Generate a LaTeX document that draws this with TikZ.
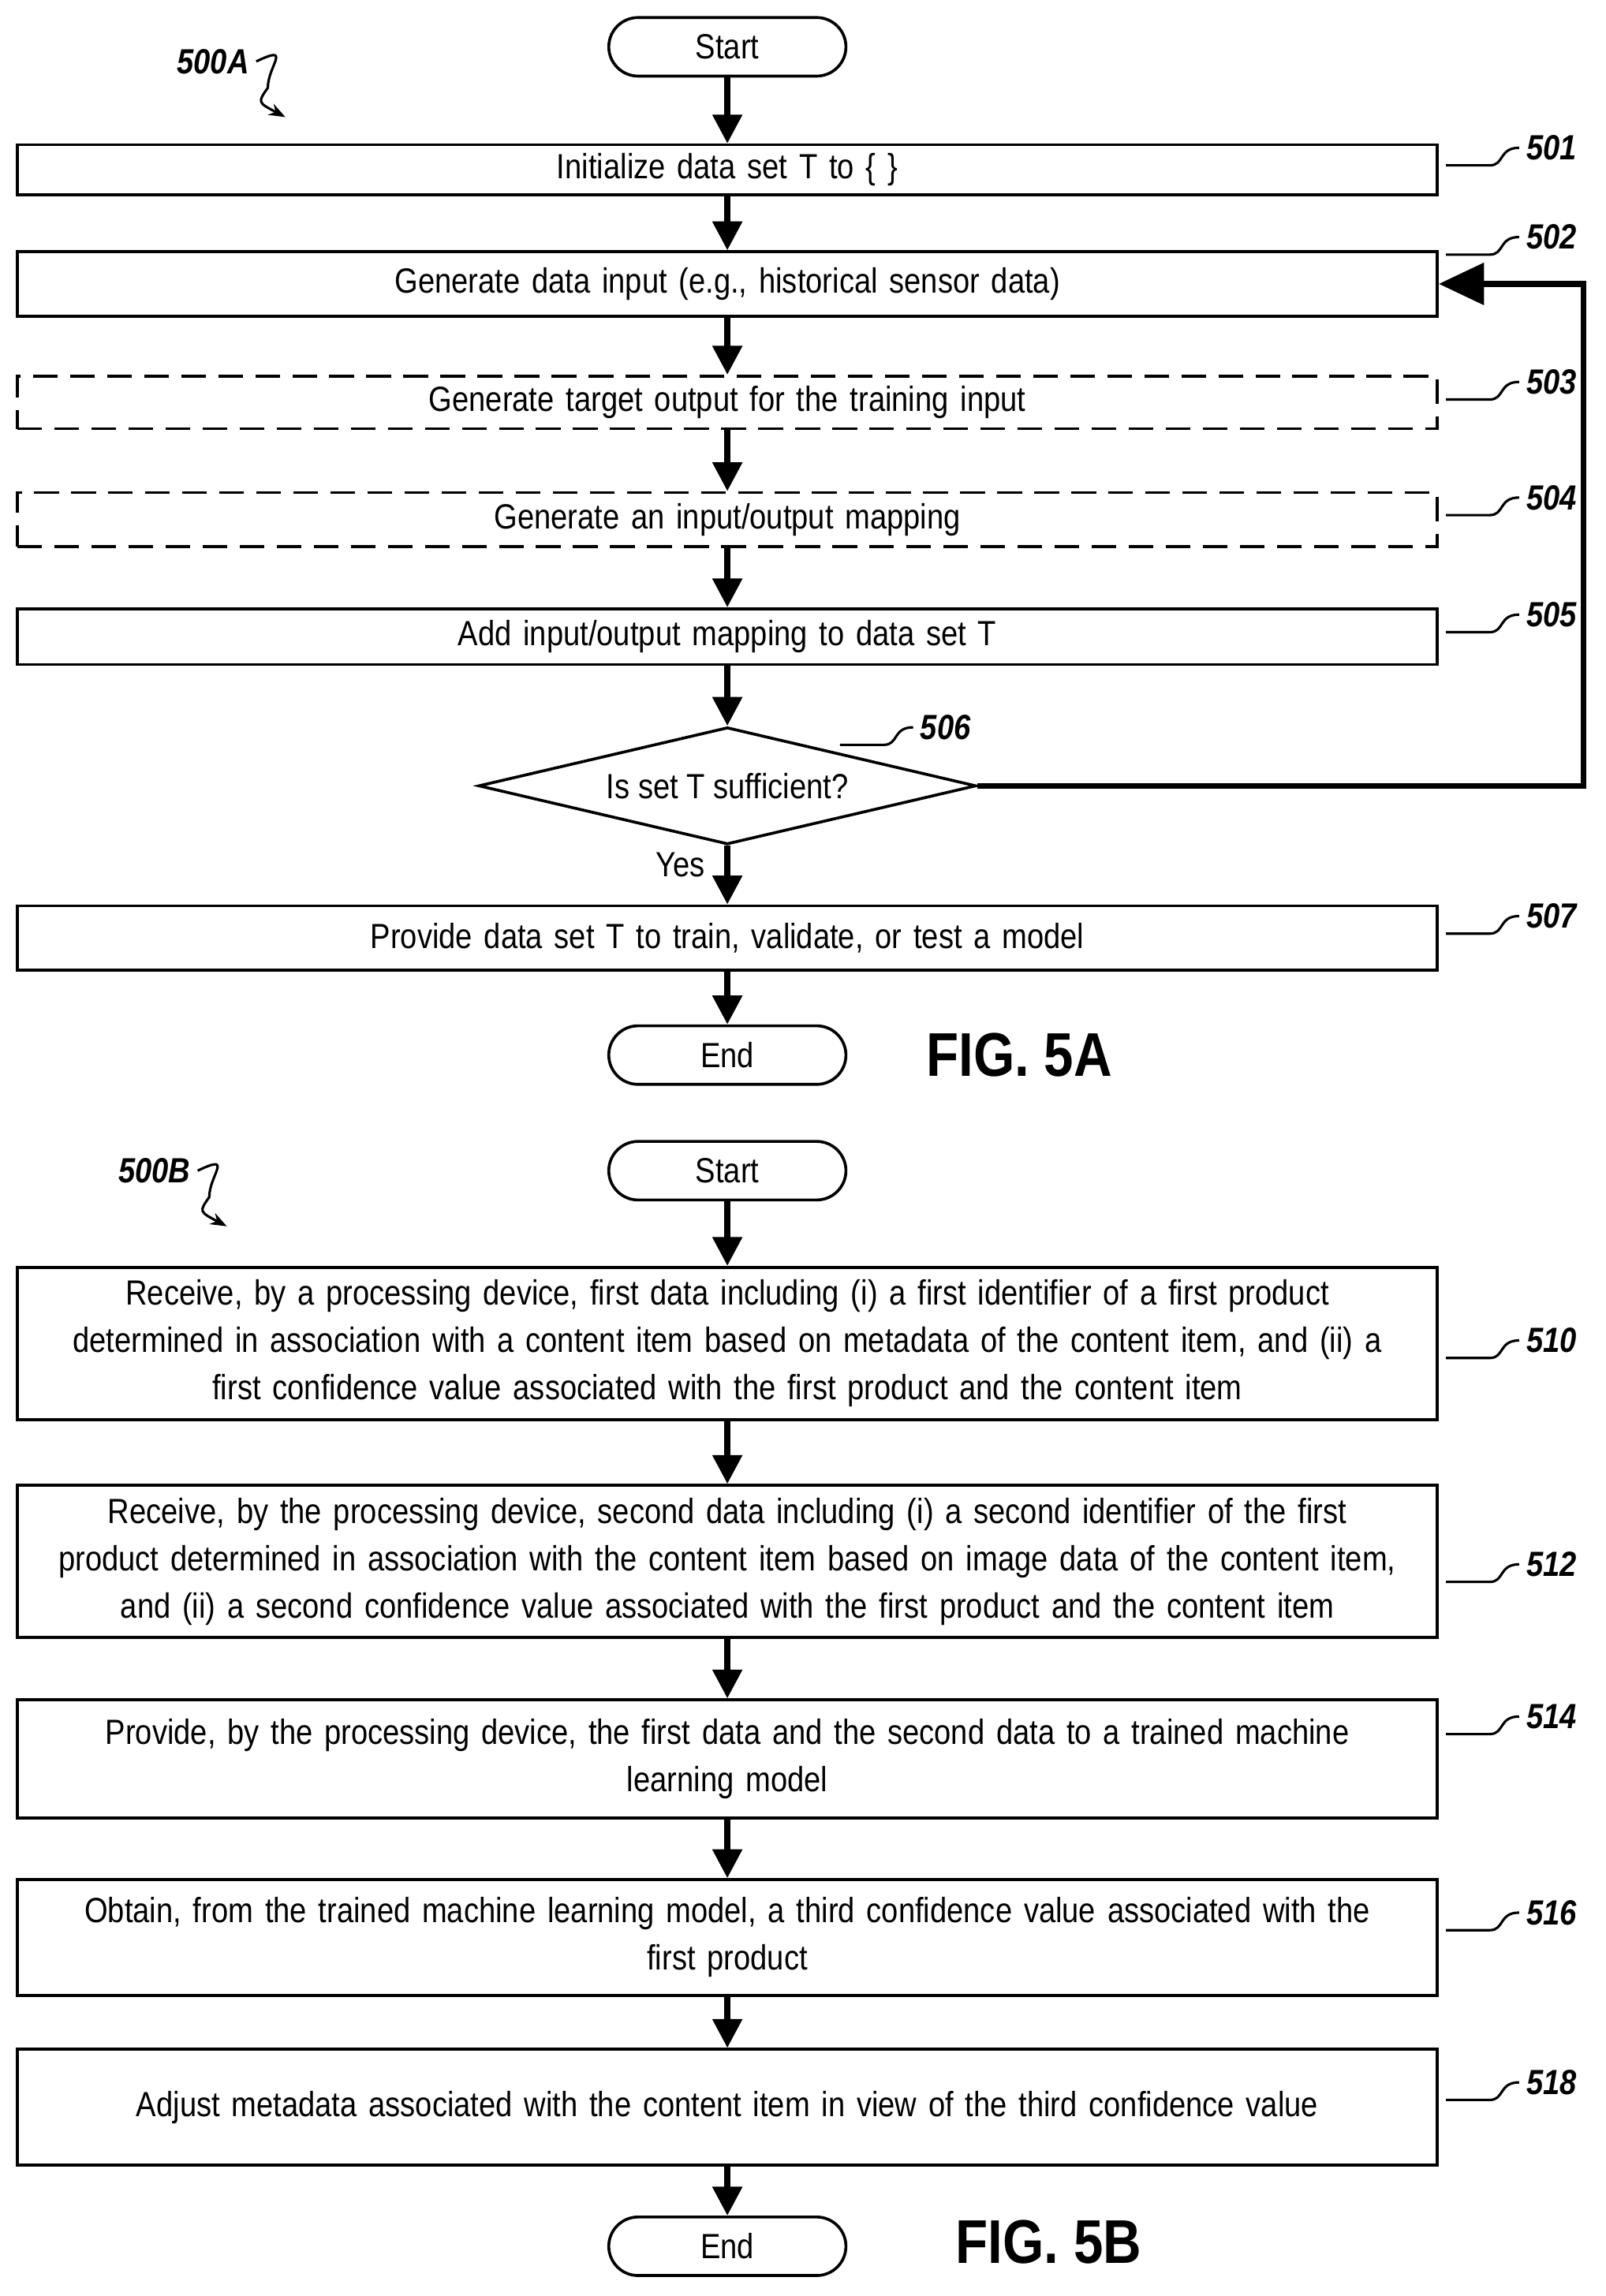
\documentclass[tikz,border=0pt]{standalone}
\usepackage{fontspec}
\setmainfont{Liberation Sans}[FakeStretch=0.86]
\usetikzlibrary{shapes.geometric,arrows.meta,positioning}
\hyphenpenalty=10000
\tikzset{
  box/.style={draw,line width=1.4pt,minimum width=24.25cm,inner sep=2pt,align=center,text width=24cm},
  dbox/.style={box,dash pattern=on 12pt off 6pt},
  term/.style={draw,line width=1.4pt,rounded corners=0.5cm,minimum width=4.05cm,minimum height=1cm},
  flow/.style={line width=2.8pt,-{Triangle[length=14pt,width=14pt]}},
  ref/.style={font=\fontsize{17}{23}\selectfont\bfseries\itshape,anchor=west},
  squig/.style={line width=1.2pt}
}
\newcommand{\reflabel}[3]{%
  \node[ref] (#1) at (#2) {#3};
  \draw[squig] (#1.west) .. controls +(-14,0) and +(10,0) .. +(-20,12) -- +(-50,12);
}
\begin{document}
\begin{tikzpicture}[x=0.025cm,y=-0.025cm,font=\fontsize{17}{23}\selectfont]
\useasboundingbox (0,0) rectangle (1097,1569);
% FIG. 5A
\node[term] (S1) at (497,32) {Start};
\node[box,minimum height=0.85cm] (B501) at (497,116) {Initialize data set T to \{ \}};
\node[box,minimum height=1.1cm] (B502) at (497,194) {Generate data input (e.g., historical sensor data)};
\node[dbox,minimum height=0.9cm] (B503) at (497,275) {Generate target output for the training input};
\node[dbox,minimum height=0.92cm] (B504) at (497,355) {Generate an input/output mapping};
\node[box,minimum height=0.95cm] (B505) at (497,435) {Add input/output mapping to data set T};
\node[diamond,draw,line width=1.4pt,inner sep=0pt,minimum width=8.5cm,minimum height=2cm,shape aspect=4.25] (D506) at (497,537) {};
\node at (D506.center) {Is set T sufficient?};
\node[box,minimum height=1.1cm] (B507) at (497,641) {Provide data set T to train, validate, or test a model};
\node[term] (E1) at (497,721) {End};
\node[font=\bfseries\fontsize{30}{36}\selectfont,anchor=west] (F5A) at (628,721) {FIG. 5A};
\node (yes) at (465,591) {Yes};

\draw[flow] (S1) -- (B501);
\draw[flow] (B501) -- (B502);
\draw[flow] (B502) -- (B503);
\draw[flow] (B503) -- (B504);
\draw[flow] (B504) -- (B505);
\draw[flow] (B505) -- (D506);
\draw[flow] (D506) -- (B507);
\draw[flow] (B507) -- (E1);
\coordinate (loopA) at (1082,537);
\coordinate (loopB) at (1082,194);
\draw[flow,-{Triangle[length=22pt,width=20pt]}] (D506.east) -- (loopA) -- (loopB) -- (B502.east);

\node[ref] (L500A) at (116,42) {500A};
\draw[squig,-{Stealth[length=8pt]}] (L500A.east) .. controls +(25,-12) and +(0,-15) .. (183,60) .. controls (176,70) .. (195,80);
\reflabel{L501}{1038,101}{501}
\reflabel{L502}{1038,162}{502}
\reflabel{L503}{1038,261}{503}
\reflabel{L504}{1038,340}{504}
\reflabel{L505}{1038,420}{505}
\reflabel{L506}{624,497}{506}
\reflabel{L507}{1038,626}{507}

% FIG. 5B
\node[term] (S2) at (497,800) {Start};
\node[box,minimum height=2.6cm] (B510) at (497,918) {Receive, by a processing device, first data including (i) a first identifier of a first product\\ determined in association with a content item based on metadata of the content item, and (ii) a\\ first confidence value associated with the first product and the content item};
\node[box,minimum height=2.6cm] (B512) at (497,1067) {Receive, by the processing device, second data including (i) a second identifier of the first\\ product determined in association with the content item based on image data of the content item,\\ and (ii) a second confidence value associated with the first product and the content item};
\node[box,minimum height=2.02cm] (B514) at (497,1202) {Provide, by the processing device, the first data and the second data to a trained machine\\ learning model};
\node[box,minimum height=1.98cm] (B516) at (497,1324) {Obtain, from the trained machine learning model, a third confidence value associated with the\\ first product};
\node[box,minimum height=1.98cm] (B518) at (497,1440) {Adjust metadata associated with the content item in view of the third confidence value};
\node[term] (E2) at (497,1535) {End};
\node[font=\bfseries\fontsize{30}{36}\selectfont,anchor=west] (F5B) at (648,1532) {FIG. 5B};

\draw[flow] (S2) -- (B510);
\draw[flow] (B510) -- (B512);
\draw[flow] (B512) -- (B514);
\draw[flow] (B514) -- (B516);
\draw[flow] (B516) -- (B518);
\draw[flow] (B518) -- (E2);

\node[ref] (L500B) at (76,800) {500B};
\draw[squig,-{Stealth[length=8pt]}] (L500B.east) .. controls +(25,-12) and +(0,-15) .. (143,818) .. controls (136,828) .. (155,838);
\reflabel{L510}{1038,916}{510}
\reflabel{L512}{1038,1069}{512}
\reflabel{L514}{1038,1173}{514}
\reflabel{L516}{1038,1307}{516}
\reflabel{L518}{1038,1423}{518}
\end{tikzpicture}
\end{document}
